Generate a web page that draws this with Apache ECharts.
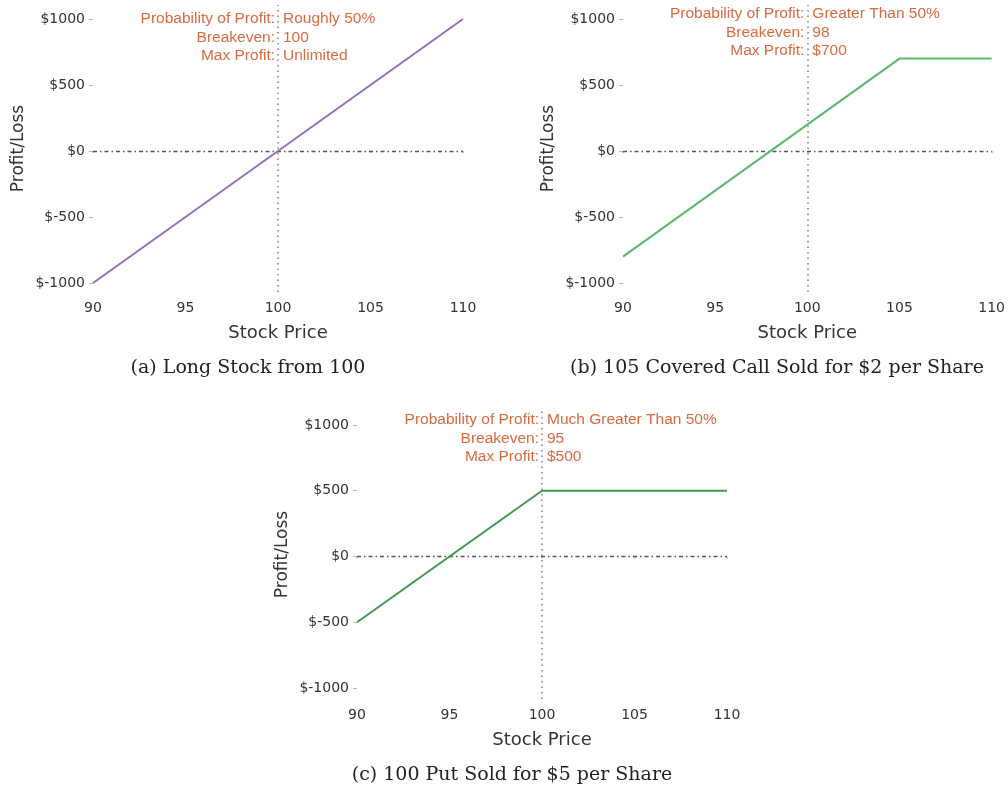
<!DOCTYPE html>
<html>
<head>
<meta charset="utf-8">
<script src="https://cdn.jsdelivr.net/npm/echarts@6/dist/echarts.min.js"></script>
<style>
html,body{margin:0;padding:0;background:#fff;}
#chart{width:1008px;height:789px;}
</style>
</head>
<body>
<div id="chart"></div>
<script>
// ---- data ----
const xTicks = [90, 95, 100, 105, 110];
const yTicks = [-1000, -500, 0, 500, 1000];

const longStockX = [90, 110];
const longStockY = [-1000, 1000];

const coveredCallX = [90, 105, 110];
const coveredCallY = [-800, 700, 700];

const shortPutX = [90, 100, 110];
const shortPutY = [-500, 500, 500];

const annotKeys = ['Probability of Profit:', 'Breakeven:', 'Max Profit:'];
const longStockInfo = ['Roughly 50%', '100', 'Unlimited'];
const coveredCallInfo = ['Greater Than 50%', '98', '$700'];
const shortPutInfo = ['Much Greater Than 50%', '95', '$500'];

const captions = [
  '(a) Long Stock from 100',
  '(b) 105 Covered Call Sold for $2 per Share',
  '(c) 100 Put Sold for $5 per Share'
];

const xLabel = 'Stock Price';
const yLabel = 'Profit/Loss';
const strikeRef = 100;
const zeroRef = 0;

// ---- layout / style ----
const panels = [
  {grid: {left: 93, top: 5, width: 370, height: 287}, yMin: -1068, yMax: 1106,
   xs: longStockX, ys: longStockY, info: longStockInfo, color: '#9370bf', annotDy: 18.5,
   cap: {x: 248, y: 368}},
  {grid: {left: 623, top: 5, width: 369, height: 287}, yMin: -1068, yMax: 1106,
   xs: coveredCallX, ys: coveredCallY, info: coveredCallInfo, color: '#5cb86b', annotDy: 13.5,
   cap: {x: 777, y: 368}},
  {grid: {left: 357, top: 410, width: 370, height: 289}, yMin: -1084, yMax: 1114,
   xs: shortPutX, ys: shortPutY, info: shortPutInfo, color: '#3f9a4d', annotDy: 13.5,
   cap: {x: 512, y: 775}}
];

const annotColor = '#d9693f';
const tickFont = {fontFamily: 'DejaVu Sans', fontSize: 14, color: '#333'};

const grids = [], xAxes = [], yAxes = [], series = [], graphics = [];

panels.forEach((p, i) => {
  grids.push(Object.assign({containLabel: false}, p.grid));
  xAxes.push({
    type: 'value', gridIndex: i, min: 90, max: 110, interval: 5,
    name: xLabel, nameLocation: 'middle', nameGap: 32,
    nameTextStyle: {fontFamily: 'DejaVu Sans', fontSize: 18, color: '#333'},
    axisLine: {show: false},
    axisTick: {show: true, length: 2, lineStyle: {color: '#bbb', width: 1.5},
               customValues: xTicks},
    axisLabel: Object.assign({margin: 9, customValues: xTicks}, tickFont),
    splitLine: {show: false}
  });
  yAxes.push({
    type: 'value', gridIndex: i, min: p.yMin, max: p.yMax,
    name: yLabel, nameLocation: 'middle', nameGap: 66,
    nameTextStyle: {fontFamily: 'DejaVu Sans', fontSize: 17, color: '#333'},
    axisLine: {show: false},
    axisTick: {show: true, length: 4, lineStyle: {color: '#bbb'}, customValues: yTicks},
    axisLabel: Object.assign({margin: 8, customValues: yTicks,
      formatter: v => '$' + v}, tickFont),
    splitLine: {show: false}
  });
  const data = p.xs.map((x, k) => [x, p.ys[k]]);
  series.push({
    type: 'line', xAxisIndex: i, yAxisIndex: i, data: data,
    symbol: 'none', clip: false, z: 3,
    lineStyle: {color: p.color, width: 2},
    markLine: {
      silent: true, symbol: ['none', 'none'], label: {show: false},
      animation: false, z: 1,
      data: [
        {yAxis: zeroRef, lineStyle: {color: '#555', width: 1.3, type: [4, 3, 1.5, 3]}},
        {xAxis: strikeRef, lineStyle: {color: '#888', width: 1.6, type: [1.5, 4]}}
      ]
    },
    markPoint: {
      silent: true, symbol: 'circle', symbolSize: 0, animation: false,
      data: [
        {coord: [strikeRef, 1000],
         label: {show: true, position: 'left', distance: 3, offset: [0, p.annotDy],
                 formatter: annotKeys.join('\n'), color: annotColor,
                 fontFamily: 'Liberation Sans', fontSize: 15.5, lineHeight: 18.5}},
        {coord: [strikeRef, 1000],
         label: {show: true, position: 'right', distance: 5, offset: [0, p.annotDy],
                 formatter: p.info.join('\n'), color: annotColor,
                 fontFamily: 'Liberation Sans', fontSize: 15.5, lineHeight: 18.5}}
      ]
    }
  });
  graphics.push({
    type: 'text', x: p.cap.x, y: p.cap.y,
    style: {text: captions[i], fill: '#222', font: '19px "DejaVu Serif"',
            align: 'center', verticalAlign: 'middle'}
  });
});

const chart = echarts.init(document.getElementById('chart'), null, {renderer: 'canvas'});
chart.setOption({
  animation: false,
  backgroundColor: '#fff',
  grid: grids, xAxis: xAxes, yAxis: yAxes, series: series,
  graphic: graphics
});
</script>
</body>
</html>
